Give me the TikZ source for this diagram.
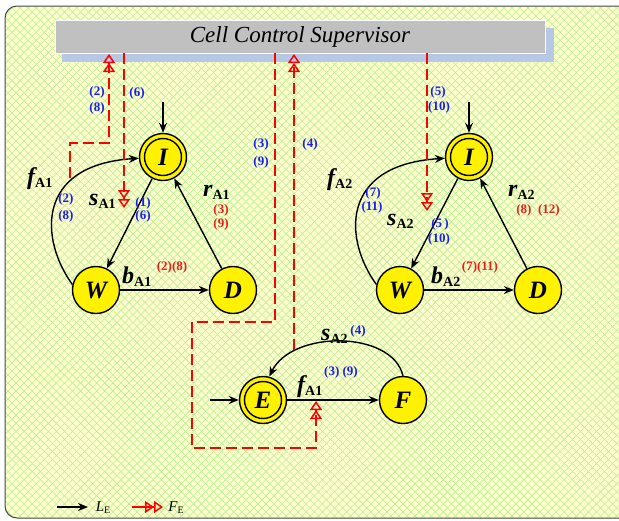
\documentclass[tikz,border=0pt]{standalone}
\usepackage{fontspec}
\setmainfont{Liberation Serif}
\usetikzlibrary{arrows.meta,patterns.meta}
\definecolor{bgyel}{RGB}{255,255,205}
\definecolor{hatch}{RGB}{185,238,150}
\definecolor{supgray}{RGB}{192,192,192}
\definecolor{supshadow}{RGB}{182,200,228}
\definecolor{numblue}{RGB}{30,30,235}
\definecolor{numred}{RGB}{235,30,30}
\definecolor{framegray}{RGB}{70,70,70}
\newcommand\evlab[2]{{\fontsize{24}{26}\selectfont\bfseries\itshape #1}\raisebox{-3pt}{\fontsize{14}{16}\selectfont\bfseries #2}}
\begin{document}
\begin{tikzpicture}[x=1pt,y=-1pt,
  stnode/.style={circle,draw=black,fill=yellow,line width=1.4pt,minimum size=47pt,inner sep=0pt,font=\fontsize{25}{27}\selectfont\bfseries\itshape},
  arr/.style={-{Stealth[length=10pt,width=8pt]},line width=1.4pt,draw=black},
  fe/.style={draw=red,line width=1.5pt,dash pattern=on 11pt off 5pt,-{Triangle[open,length=9pt,width=12pt]Triangle[open,length=9pt,width=12pt]}},
  nb/.style={text=numblue,font=\fontsize{13}{15}\selectfont\bfseries,inner sep=0pt},
  nr/.style={nb,text=numred},
  ev/.style={anchor=base west,inner sep=0pt}
]
\useasboundingbox (0,0) rectangle (619,520);
\clip (0,0) rectangle (619,520);
% frame and background
\path[fill=bgyel,rounded corners=12pt] (5,6) rectangle (632,518);
\path[pattern={Lines[angle=45,distance=5.7pt,line width=0.6pt]},pattern color=hatch,rounded corners=12pt] (5,6) rectangle (632,518);
\path[pattern={Lines[angle=-45,distance=5.7pt,line width=0.6pt]},pattern color=hatch,rounded corners=12pt] (5,6) rectangle (632,518);
\draw[framegray,line width=1pt,rounded corners=12pt] (5,6) rectangle (632,518);
% supervisor
\path[fill=supshadow] (62,28) rectangle (554,62);
\node[fill=supgray,draw=white,line width=0.8pt,minimum width=490pt,minimum height=33pt,inner sep=0pt,font=\fontsize{23}{25}\selectfont\itshape] (sup) at (300,36.5) {Cell Control Supervisor};
% states
\node[stnode] (I1) at (163,157) {I};
\draw[line width=1.4pt] (I1.center) circle (18.5);
\node[stnode] (W1) at (96,290) {W};
\node[stnode] (D1) at (233,290) {D};
\node[stnode] (I2) at (469,157) {I};
\draw[line width=1.4pt] (I2.center) circle (18.5);
\node[stnode] (W2) at (400,290) {W};
\node[stnode] (D2) at (538,290) {D};
\node[stnode] (E) at (263,400) {E};
\draw[line width=1.4pt] (E.center) circle (18.5);
\node[stnode] (F) at (403,400) {F};
% black transitions
\coordinate (in1) at (163,102);
\coordinate (in2) at (469,102);
\coordinate (inE) at (210,400);
\draw[arr] (in1) -- (I1);
\draw[arr] (I1) -- (W1);
\draw[arr] (D1) -- (I1);
\draw[arr] (W1) -- (D1);
\draw[arr] (W1.167) .. controls (40,240) and (35,165) .. (I1.183);
\draw[arr] (in2) -- (I2);
\draw[arr] (I2) -- (W2);
\draw[arr] (D2) -- (I2);
\draw[arr] (W2) -- (D2);
\draw[arr] (W2.167) .. controls (344,240) and (339,165) .. (I2.183);
\draw[arr] (inE) -- (E);
\draw[arr] (E) -- (F);
\draw[arr] (F.north) .. controls (392,330) and (292,330) .. (E.75);
% red dashed forcing lines
\coordinate (a1) at (70,178);
\coordinate (a2) at (70,143);
\coordinate (a3) at (109,143);
\coordinate (a4) at (109,54);
\draw[fe] (a1) -- (a2) -- (a3) -- (a4);
\coordinate (b1) at (124,53);
\coordinate (b2) at (124,208);
\draw[fe] (b1) -- (b2);
\coordinate (c1) at (275,53);
\coordinate (c2) at (275,322);
\coordinate (c3) at (192,322);
\coordinate (c4) at (192,448);
\coordinate (c5) at (316,448);
\coordinate (c6) at (316,401);
\draw[fe] (c1) -- (c2) -- (c3) -- (c4) -- (c5) -- (c6);
\coordinate (d1) at (294,350);
\coordinate (d2) at (294,54);
\draw[fe] (d1) -- (d2);
\coordinate (e1) at (427,53);
\coordinate (e2) at (427,211);
\draw[fe] (e1) -- (e2);
% event labels
\node[ev] (lfA1) at (27,184) {\evlab{f}{A1}};
\node[ev] (lsA1) at (89,205) {\evlab{s}{A1}};
\node[ev] (lrA1) at (203,196) {\evlab{r}{A1}};
\node[ev] (lbA1) at (122,283) {\evlab{b}{A1}};
\node[ev] (lfA2) at (327,185) {\evlab{f}{A2}};
\node[ev] (lsA2) at (387,225) {\evlab{s}{A2}};
\node[ev] (lrA2) at (508,196) {\evlab{r}{A2}};
\node[ev] (lbA2) at (431,283) {\evlab{b}{A2}};
\node[ev] (lsA2b) at (321,340) {\evlab{s}{A2}};
\node[ev] (lfA1b) at (297,392) {\evlab{f}{A1}};
% number labels
\node[nb] (n1) at (97,92) {(2)};
\node[nb] (n2) at (97,108) {(8)};
\node[nb] (n3) at (137,93) {(6)};
\node[nb] (n4) at (66,199) {(2)};
\node[nb] (n5) at (66,216) {(8)};
\node[nb] (n6) at (143,203) {(1)};
\node[nb] (n7) at (143,216) {(6)};
\node[nr] (n8) at (221,210) {(3)};
\node[nr] (n9) at (221,224) {(9)};
\node[nr] (n10) at (172,267) {(2)(8)};
\node[nb] (n11) at (261,144) {(3)};
\node[nb] (n12) at (261,162) {(9)};
\node[nb] (n13) at (310,144) {(4)};
\node[nb] (n14) at (438,92) {(5)};
\node[nb] (n15) at (439,107) {(10)};
\node[nb] (n16) at (373,193) {(7)};
\node[nb] (n17) at (372,207) {(11)};
\node[nb] (n18) at (440,224) {(5\,)};
\node[nb] (n19) at (439,239) {(10)};
\node[nr] (n20) at (538,210) {(8)\enspace(12)};
\node[nr] (n21) at (480,267) {(7)(11)};
\node[nb] (n22) at (358,331) {(4)};
\node[nb] (n23) at (341,372) {(3) (9)};
% legend
\coordinate (lg1) at (57,507);
\coordinate (lg2) at (88,507);
\draw[arr] (lg1) -- (lg2);
\node[inner sep=0pt,font=\fontsize{15}{17}\selectfont] (lgL) at (103,508) {\textit{L}\raisebox{-2pt}{\fontsize{10}{12}\selectfont E}};
\coordinate (lg3) at (132,507);
\coordinate (lg4) at (163,507);
\draw[fe,dash pattern=] (lg3) -- (lg4);
\node[inner sep=0pt,font=\fontsize{15}{17}\selectfont] (lgF) at (176,508) {\textit{F}\raisebox{-2pt}{\fontsize{10}{12}\selectfont E}};
\end{tikzpicture}
\end{document}
